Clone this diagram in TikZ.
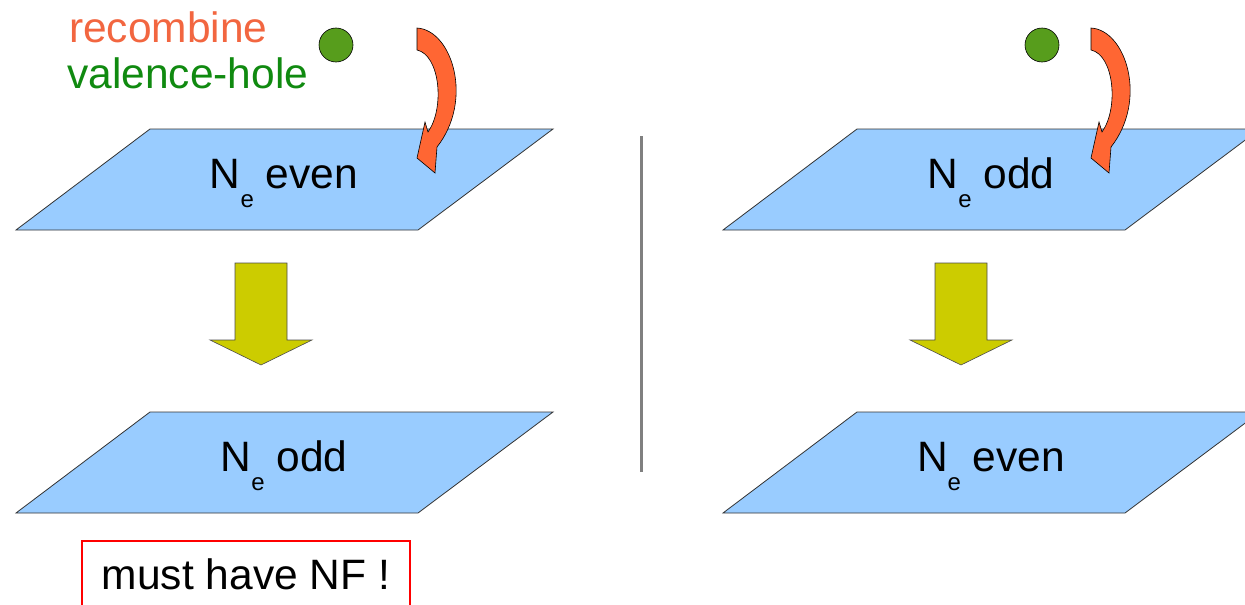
\documentclass[tikz,border=0pt]{standalone}
\usepackage{fontspec}
\setmainfont{Liberation Sans}
\definecolor{plane}{HTML}{99CCFF}
\definecolor{ylw}{HTML}{CCCC00}
\definecolor{org}{HTML}{FF6633}
\definecolor{grn}{HTML}{579D1C}
\definecolor{txtgreen}{HTML}{108A10}
\definecolor{txtorange}{HTML}{F26640}
\newcommand{\Ne}[1]{N\raisebox{-0.46em}{\fontsize{24}{24}\selectfont e}\ #1}
\begin{document}
\begin{tikzpicture}[x=1pt,y=-1pt,
  planestyle/.style={fill=plane,draw=black!80,line width=0.8pt,line join=miter},
  bigarrow/.style={fill=ylw,draw=black!70,line width=0.6pt},
  curvearrow/.style={fill=org,draw=black,line width=0.6pt},
  dot/.style={circle,fill=grn,draw=black,line width=0.6pt,minimum size=34pt,inner sep=0pt},
  lbl/.style={font=\fontsize{42.5}{50}\selectfont,inner sep=0pt,anchor=base},
]
\useasboundingbox (0,0) rectangle (1245,605);
% planes
\foreach \dx/\dy/\nm in {0/0/pa, 0/283/pb, 707/0/pc, 707/283/pd}{
  \path[planestyle] (150+\dx,129+\dy) -- (553+\dx,129+\dy) -- (418+\dx,230+\dy) -- (16+\dx,230+\dy) -- cycle;
}
% labels
\node[lbl] (ta) at (284,188) {\Ne{even}};
\node[lbl] (tb) at (284,471) {\Ne{odd}};
\node[lbl] (tc) at (991,188) {\Ne{odd}};
\node[lbl] (td) at (991,471) {\Ne{even}};
% yellow block arrows
\foreach \dx in {0,700}{
  \path[bigarrow] (235+\dx,263) -- (287+\dx,263) -- (287+\dx,340) -- (312+\dx,340) -- (261+\dx,365) -- (210+\dx,340) -- (235+\dx,340) -- cycle;
}
% divider
\draw[line width=3pt,draw=black!50] (641,136) -- (641,472);
% green dots
\node[dot] (ga) at (336,45) {};
\node[dot] (gb) at (1042,45) {};
% orange curved arrows
\foreach \dx in {0,674}{
  \path[curvearrow] (417+\dx,28) .. controls (452+\dx,30) and (474+\dx,100) .. (437+\dx,147)
    -- (435+\dx,173) -- (417+\dx,158) -- (425+\dx,122) -- (428+\dx,132)
    .. controls (445+\dx,108) and (440+\dx,55) .. (417+\dx,50) -- cycle;
}
% text top left
\node[lbl,anchor=base west,text=txtorange] (rec) at (69,42) {recombine};
\node[lbl,anchor=base west,text=txtgreen] (val) at (67,88) {valence-hole};
% red box
\draw[red,line width=2.4pt] (82,620) -- (82,541) -- (410,541) -- (410,620);
\node[lbl] (nf) at (246,589) {must have NF !};
\end{tikzpicture}
\end{document}
